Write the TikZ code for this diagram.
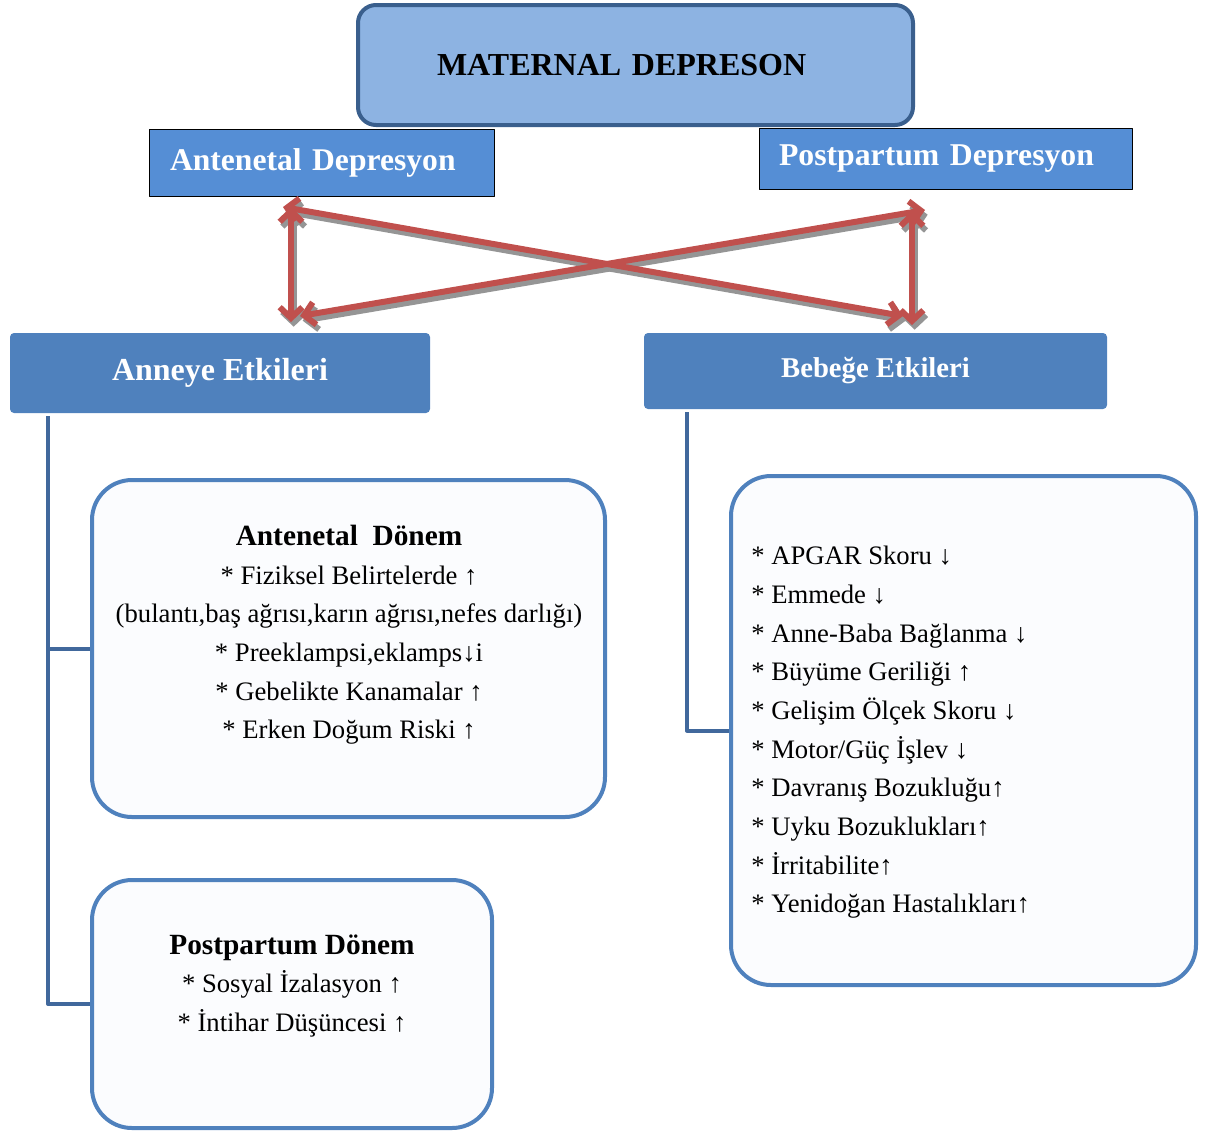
\documentclass[tikz,border=0pt]{standalone}
\usepackage{fontspec}
\setmainfont{Liberation Serif}
\usepackage{tikz}
\usetikzlibrary{arrows.meta}

\definecolor{mdfill}{HTML}{8DB3E2}
\definecolor{mdline}{HTML}{3A5F8D}
\definecolor{depfill}{HTML}{558ED5}
\definecolor{effill}{HTML}{4F81BD}
\definecolor{boxline}{HTML}{4F81BD}
\definecolor{boxfill}{HTML}{FBFCFE}
\definecolor{treecol}{HTML}{41689C}
\definecolor{arrred}{HTML}{C0504D}
\definecolor{arrshade}{HTML}{959595}

\begin{document}
\begin{tikzpicture}[x=0.75pt,y=-0.75pt,line join=round,
  >={Straight Barb[length=8pt,width=17pt]},
  mainbox/.style={draw=mdline,line width=3pt,fill=mdfill,rounded corners=13.5pt,inner ysep=0pt,align=left},
  depbox/.style={draw=black,line width=0.75pt,fill=depfill,text=white,align=left,inner ysep=0pt},
  effbox/.style={fill=effill,rounded corners=3pt,text=white,inner sep=0pt},
  periodbox/.style={draw=boxline,line width=3pt,fill=boxfill,rounded corners=30pt,inner sep=0pt},
  bodytext/.style={font=\fontsize{20}{29}\selectfont,inner sep=0pt},
  redarrow/.style={<->,draw=arrred,line width=4.5pt},
  shadearrow/.style={<->,draw=arrshade,line width=4.5pt,transform canvas={xshift=2pt,yshift=-3.5pt}},
  treeline/.style={draw=treecol,line width=3pt}]
\useasboundingbox (0,0) rectangle (1206,1133);

% top
\node[mainbox,text width=297.75pt,inner xsep=59.25pt,minimum height=90pt,font=\fontsize{24}{28}\selectfont\bfseries] (md) at (635.5,65) {MATERNAL DEPRESON};
\node[depbox,text width=227.25pt,inner xsep=15.75pt,minimum height=50.25pt,font=\fontsize{23.7}{27}\selectfont\bfseries] (ant) at (321.5,162.5) {Antenetal Depresyon};
\node[depbox,text width=249.75pt,inner xsep=15pt,minimum height=45.75pt,font=\fontsize{23.8}{27}\selectfont\bfseries] (pp) at (945.5,158.5) {Postpartum Depresyon};

% effects
\node[effbox,minimum width=315pt,minimum height=60pt,font=\fontsize{24}{28}\selectfont\bfseries] (anne) at (220,373) {Anneye Etkileri};
\node[effbox,minimum width=347.25pt,minimum height=57pt,font=\fontsize{21.5}{26}\selectfont\bfseries] (bebe) at (875.5,371) {Bebeğe Etkileri};

% arrows
\coordinate (la1) at (291,207);
\coordinate (la2) at (291,322);
\coordinate (ra1) at (912,211);
\coordinate (ra2) at (912,325);
\coordinate (xa1) at (283,207);
\coordinate (xa2) at (903,316);
\coordinate (xb1) at (300,316);
\coordinate (xb2) at (925,210);
\draw[shadearrow] (la1) -- (la2);
\draw[shadearrow] (ra1) -- (ra2);
\draw[shadearrow] (xa1) -- (xa2);
\draw[shadearrow] (xb1) -- (xb2);
\draw[redarrow] (la1) -- (la2);
\draw[redarrow] (ra1) -- (ra2);
\draw[redarrow] (xa1) -- (xa2);
\draw[redarrow] (xb1) -- (xb2);

% period boxes
\node[periodbox,minimum width=384.75pt,minimum height=252.75pt] (antd) at (348.5,648.5) {};
\node[periodbox,minimum width=300pt,minimum height=186pt] (ppd) at (292,1004) {};
\node[periodbox,minimum width=348.75pt,minimum height=381.75pt] (bebd) at (963.5,730.5) {};

\node[bodytext,align=center] (antdtxt) at (349,635) {{\bfseries\fontsize{22}{31}\selectfont Antenetal\ \ Dönem}\\
* Fiziksel Belirtelerde ↑\\
(bulantı,baş ağrısı,karın ağrısı,nefes darlığı)\\
* Preeklampsi,eklamps↓i\\
* Gebelikte Kanamalar ↑\\
* Erken Doğum Riski ↑};
\node[bodytext,align=center] (ppdtxt) at (292,986) {{\bfseries\fontsize{22}{31}\selectfont Postpartum Dönem}\\
* Sosyal İzalasyon ↑\\
* İntihar Düşüncesi ↑};
\node[bodytext,align=left,anchor=west] (bebtxt) at (751,732.5) {* APGAR Skoru ↓\\
* Emmede ↓\\
* Anne-Baba Bağlanma ↓\\
* Büyüme Geriliği ↑\\
* Gelişim Ölçek Skoru ↓\\
* Motor/Güç İşlev ↓\\
* Davranış Bozukluğu↑\\
* Uyku Bozuklukları↑\\
* İrritabilite↑\\
* Yenidoğan Hastalıkları↑};

% tree lines
\coordinate (lstem) at (48,416);
\coordinate (rstem) at (687,412);
\draw[treeline] (lstem) |- (ppd.west);
\draw[treeline] (lstem |- antd.west) -- (antd.west);
\draw[treeline] (rstem) |- (bebd.west);
\end{tikzpicture}
\end{document}
